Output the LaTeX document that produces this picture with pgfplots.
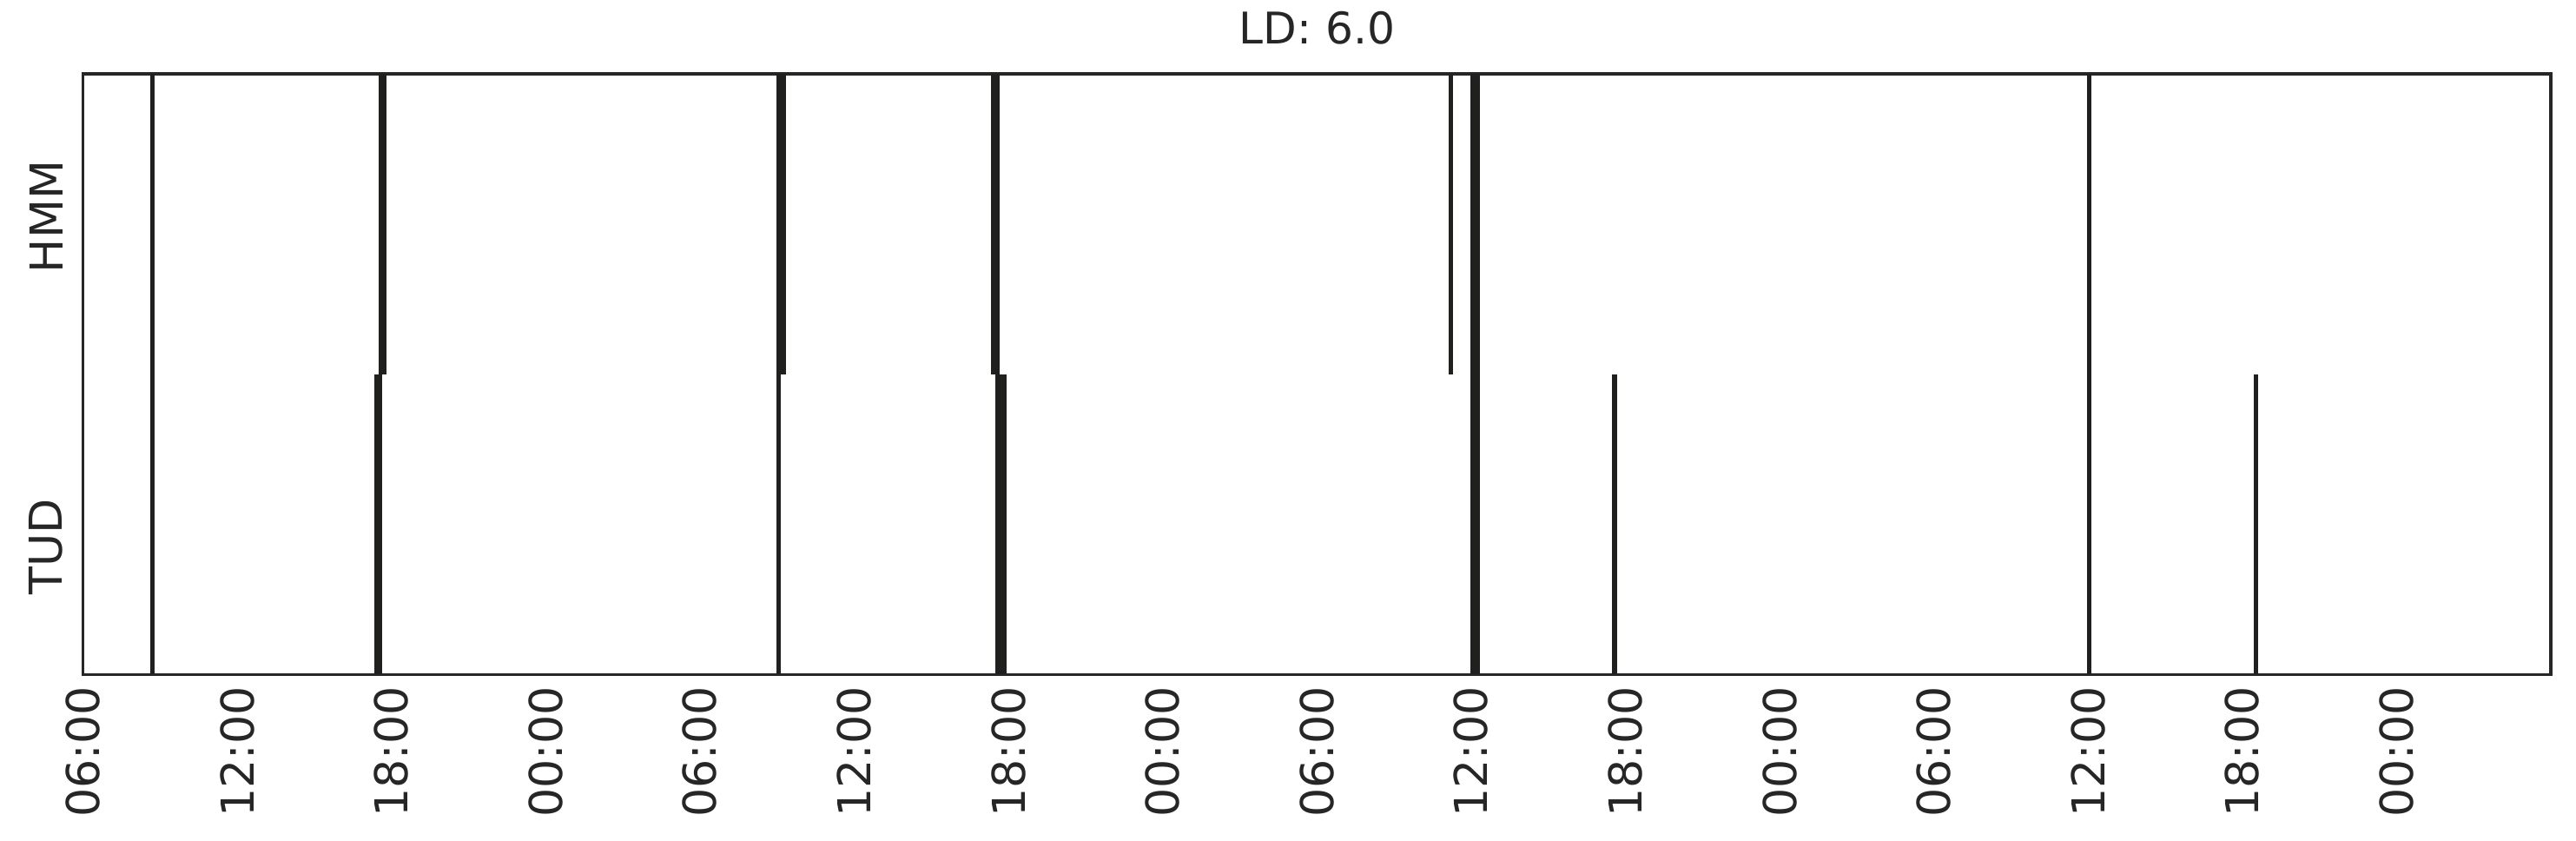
\documentclass[border=0pt]{standalone}
\usepackage{pgfplots}
\pgfplotsset{compat=1.18}
\usepackage{fontspec}
\setmainfont{DejaVu Sans}
\definecolor{txt}{RGB}{38,38,38}
\definecolor{seg}{RGB}{32,32,30}
\begin{document}
\begin{tikzpicture}
\begin{axis}[
  scale only axis, width=710.3bp, height=172.75bp,
  xmin=0, xmax=96, ymin=0, ymax=2,
  xtick={0,6,...,90},
  xticklabels={06:00,12:00,18:00,00:00,06:00,12:00,18:00,00:00,06:00,12:00,18:00,00:00,06:00,12:00,18:00,00:00},
  ytick={0.425,1.525}, yticklabels={TUD,HMM},
  major tick length=0,
  xticklabel style={rotate=90, anchor=east},
  yticklabel style={rotate=90, anchor=south, yshift=2.2bp},
  tick label style={font=\fontsize{13.1}{15}\selectfont, text=txt},
  title={LD: 6.0},
  title style={font=\fontsize{12.6}{15}\selectfont, text=txt, yshift=-1bp},
  axis line style={draw=txt, line width=0.9bp},
]
% both rows
\addplot[fill=seg, draw=none] coordinates {(2.62,0) (2.80,0) (2.80,2) (2.62,2)} -- cycle;
% HMM row (y 1..2)
\addplot[fill=seg, draw=none] coordinates {(11.50,1) (11.82,1) (11.82,2) (11.50,2)} -- cycle;
\addplot[fill=seg, draw=none] coordinates {(26.97,1) (27.33,1) (27.33,2) (26.97,2)} -- cycle;
\addplot[fill=seg, draw=none] coordinates {(35.31,1) (35.65,1) (35.65,2) (35.31,2)} -- cycle;
\addplot[fill=seg, draw=none] coordinates {(53.12,1) (53.30,1) (53.30,2) (53.12,2)} -- cycle;
% TUD row (y 0..1)
\addplot[fill=seg, draw=none] coordinates {(11.32,0) (11.65,0) (11.65,1) (11.32,1)} -- cycle;
\addplot[fill=seg, draw=none] coordinates {(26.97,0) (27.14,0) (27.14,1) (26.97,1)} -- cycle;
\addplot[fill=seg, draw=none] coordinates {(35.48,0) (35.92,0) (35.92,1) (35.48,1)} -- cycle;
\addplot[fill=seg, draw=none] coordinates {(59.47,0) (59.67,0) (59.67,1) (59.47,1)} -- cycle;
\addplot[fill=seg, draw=none] coordinates {(84.43,0) (84.60,0) (84.60,1) (84.43,1)} -- cycle;
% both rows
\addplot[fill=seg, draw=none] coordinates {(53.97,0) (54.33,0) (54.33,2) (53.97,2)} -- cycle;
\addplot[fill=seg, draw=none] coordinates {(77.97,0) (78.14,0) (78.14,2) (77.97,2)} -- cycle;
\end{axis}
\path ([shift={(-23.9bp,-47.75bp)}]current axis.south west) rectangle ([shift={(7.25bp,21.25bp)}]current axis.north east);
\end{tikzpicture}
\end{document}
